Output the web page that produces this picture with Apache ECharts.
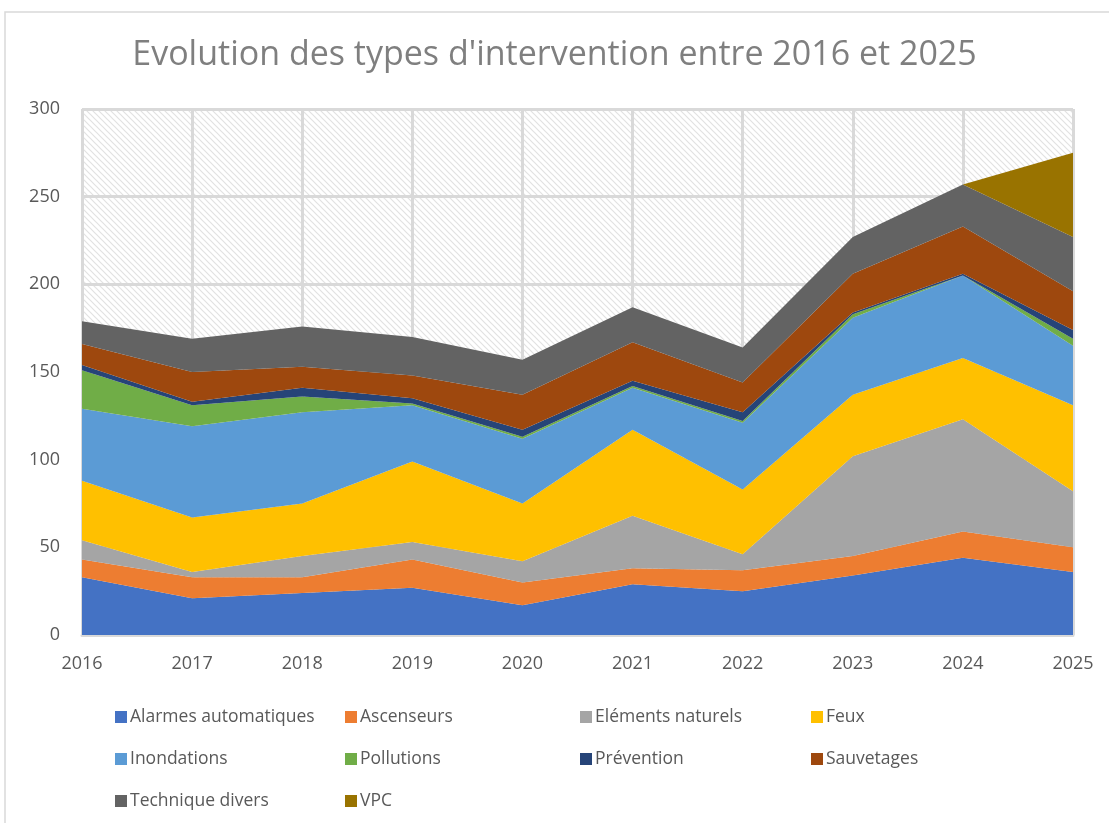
<!DOCTYPE html>
<html>
<head>
<meta charset="utf-8">
<script src="https://cdn.jsdelivr.net/npm/echarts@6/dist/echarts.min.js"></script>
<style>html,body{margin:0;padding:0;background:#fff;}#c{width:1109px;height:823px;}</style>
</head>
<body>
<div id="c"></div>
<script>
const years = ['2016','2017','2018','2019','2020','2021','2022','2023','2024','2025'];
const yTicks = [0, 50, 100, 150, 200, 250, 300];
const alarmes = [33, 21, 24, 27, 17, 29, 25, 34, 44, 36];
const ascenseurs = [10, 12, 9, 16, 13, 9, 12, 11, 15, 14];
const elements = [11, 3, 12, 10, 12, 30, 9, 57, 64, 32];
const feux = [34, 31, 30, 46, 33, 49, 37, 35, 35, 49];
const inondations = [41, 52, 52, 32, 37, 24, 38, 44, 47, 34];
const pollutions = [22, 12, 9, 1, 1, 1, 1, 2, 0, 4];
const prevention = [3, 2, 5, 3, 4, 3, 5, 1, 1, 5];
const sauvetages = [12, 17, 12, 13, 20, 22, 17, 22, 27, 22];
const technique = [13, 19, 23, 22, 20, 20, 20, 21, 24, 31];
const vpc = [0, 0, 0, 0, 0, 0, 0, 0, 0, 48];

const seriesDefs = [
  ['Alarmes automatiques', alarmes, '#4472C4'],
  ['Ascenseurs', ascenseurs, '#ED7D31'],
  ['Eléments naturels', elements, '#A5A5A5'],
  ['Feux', feux, '#FFC000'],
  ['Inondations', inondations, '#5B9BD5'],
  ['Pollutions', pollutions, '#70AD47'],
  ['Prévention', prevention, '#264478'],
  ['Sauvetages', sauvetages, '#9E480E'],
  ['Technique divers', technique, '#636363'],
  ['VPC', vpc, '#997300']
];

// hatch pattern
const pc = document.createElement('canvas');
pc.width = 6; pc.height = 6;
const g = pc.getContext('2d');
g.fillStyle = '#ffffff'; g.fillRect(0,0,6,6);
g.strokeStyle = '#e2e2e2'; g.lineWidth = 1.2;
g.beginPath();
g.moveTo(-1,-1); g.lineTo(7,7);
g.moveTo(-1,5); g.lineTo(1,7);
g.moveTo(5,-1); g.lineTo(7,1);
g.stroke();

const chart = echarts.init(document.getElementById('c'), null, {renderer: 'canvas'});
const FONT = 'Open Sans';
const legendCols = [
  {left: 115, names: ['Alarmes automatiques', 'Inondations', 'Technique divers']},
  {left: 345, names: ['Ascenseurs', 'Pollutions', 'VPC']},
  {left: 580, names: ['Eléments naturels', 'Prévention']},
  {left: 811, names: ['Feux', 'Sauvetages']}
];
const option = {
  backgroundColor: '#ffffff',
  animation: false,
  title: {
    text: "Evolution des types d'intervention entre 2016 et 2025",
    left: 'center', top: 33,
    textStyle: {fontFamily: FONT, fontSize: 34, fontWeight: 'normal', color: '#7f7f7f'}
  },
  graphic: [{
    type: 'rect', shape: {x: 5, y: 12, width: 1200, height: 900},
    style: {fill: 'none', stroke: '#d9d9d9', lineWidth: 1.5}, silent: true, z: -10
  }],
  legend: legendCols.map(c => ({
    orient: 'vertical', left: c.left, top: 708, height: 150, itemGap: 24, padding: 0,
    itemWidth: 12, itemHeight: 12, icon: 'rect',
    data: c.names,
    textStyle: {fontFamily: FONT, fontSize: 17.5, color: '#595959', padding: [0,0,0,-2]}
  })),
  grid: {
    left: 82, right: 36, top: 109, bottom: 188,
    show: true, borderWidth: 0,
    backgroundColor: {image: pc, repeat: 'repeat'}
  },
  xAxis: {
    type: 'category', data: years, boundaryGap: false,
    axisLine: {lineStyle: {color: '#d9d9d9', width: 3}},
    axisTick: {show: false},
    splitLine: {show: true, lineStyle: {color: '#d9d9d9', width: 3}},
    axisLabel: {fontFamily: FONT, fontSize: 18, color: '#595959', margin: 20}
  },
  yAxis: {
    type: 'value', min: 0, max: 300, interval: 50,
    axisLine: {show: false}, axisTick: {show: false},
    splitLine: {show: true, lineStyle: {color: '#d9d9d9', width: 3}},
    axisLabel: {fontFamily: FONT, fontSize: 18, color: '#595959', margin: 22,
      formatter: v => yTicks.includes(v) ? String(v) : ''}
  },
  series: seriesDefs.map(([name, data, color]) => ({
    name, type: 'line', stack: 'total', data,
    symbol: 'none', showSymbol: false,
    lineStyle: {width: 0},
    itemStyle: {color},
    areaStyle: {color, opacity: 1},
    emphasis: {disabled: true}
  }))
};
chart.setOption(option);
</script>
</body>
</html>
